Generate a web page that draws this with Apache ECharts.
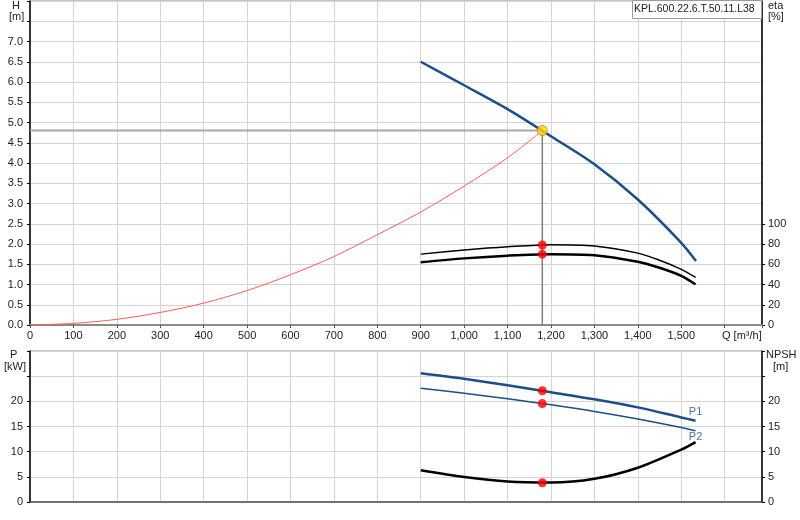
<!DOCTYPE html>
<html>
<head>
<meta charset="utf-8">
<script src="https://cdn.jsdelivr.net/npm/echarts@6/dist/echarts.min.js"></script>
<style>
html,body{margin:0;padding:0;background:#fff;}
#chart{width:800px;height:520px;}
</style>
</head>
<body>
<div id="chart"></div>
<script>
// ---- data ----
const modelName = 'KPL.600.22.6.T.50.11.L38';
const qMax = 1686;
const hLabelMax = 7.0;
const etaTicks = [0, 20, 40, 60, 80, 100];
const powerLabelMax = 20;

const qSystem = [0, 100, 200, 300, 400, 500, 600, 700, 800, 900, 1000, 1100, 1180];
const hSystem = [0, 0.04, 0.14, 0.31, 0.54, 0.85, 1.24, 1.69, 2.23, 2.79, 3.43, 4.13, 4.80];

const qPump = [900, 1000, 1100, 1200, 1300, 1400, 1500, 1534];
const hPump = [6.50, 5.92, 5.33, 4.66, 3.97, 3.10, 2.03, 1.58];

const qEta = [900, 1000, 1100, 1200, 1300, 1400, 1450, 1500, 1533];
const etaUpper = [70, 74, 77.2, 79.3, 78, 71, 64, 55, 47];
const etaLower = [62, 65.8, 68.5, 70, 69, 62.5, 56.5, 48.5, 40];

const qPower = [900, 1000, 1100, 1200, 1300, 1400, 1500, 1533];
const powerP1 = [25.6, 24.5, 23.2, 21.8, 20.4, 18.8, 16.8, 16.15];
const powerP2 = [22.6, 21.6, 20.5, 19.3, 18.0, 16.5, 14.8, 14.15];

const qNpsh = [900, 1000, 1100, 1200, 1300, 1400, 1500, 1533];
const npsh = [6.3, 4.95, 4.05, 3.85, 4.6, 6.8, 10.4, 11.9];

const dutyQ = 1180;
const dutyH = 4.80;
const dutyEtaUpper = 79;
const dutyEtaLower = 70;
const dutyP1 = 22.1;
const dutyP2 = 19.55;
const dutyNpsh = 3.83;

// ---- helpers ----
const zip = (xs, ys) => xs.map((x, i) => [x, ys[i]]);
const FONT = "'Liberation Sans', Arial, sans-serif";
const BLUE = '#1c4e89';
const GRID = '#d4d4d4';

const chart = echarts.init(document.getElementById('chart'), null, {renderer: 'canvas'});

const xAxisBase = {
  type: 'value', min: 0, max: qMax, interval: 100,
  splitLine: {show: true, lineStyle: {color: GRID, width: 1}}
};

const option = {
  animation: false,
  textStyle: {fontFamily: FONT},
  grid: [
    {left: 30, right: 38, top: 1, height: 324, show: true, borderColor: '#8a8a8a', borderWidth: 1},
    {left: 30, right: 38, top: 351, height: 151, show: true, borderColor: '#8a8a8a', borderWidth: 1}
  ],
  xAxis: [
    Object.assign({}, xAxisBase, {
      gridIndex: 0,
      axisLine: {lineStyle: {color: '#8a8a8a', width: 2}},
      axisTick: {show: true, length: 3, lineStyle: {color: '#555'}},
      axisLabel: {
        fontSize: 11, color: '#222', margin: 5, fontFamily: FONT,
        formatter: v => (v >= 1600 ? '' : v.toLocaleString('en-US'))
      }
    }),
    Object.assign({}, xAxisBase, {
      gridIndex: 1,
      axisLine: {lineStyle: {color: '#555', width: 1.5}},
      axisTick: {show: false},
      axisLabel: {show: false}
    })
  ],
  yAxis: [
    {
      type: 'value', gridIndex: 0, min: 0, max: 8, interval: 0.5,
      axisLine: {show: true, lineStyle: {color: '#000', width: 1.5}},
      axisTick: {show: true, length: 3, lineStyle: {color: '#000'}},
      axisLabel: {fontSize: 11, color: '#222', margin: 7, fontFamily: FONT,
        formatter: v => (v <= hLabelMax ? v.toFixed(1) : '')},
      splitLine: {show: true, lineStyle: {color: GRID, width: 1}}
    },
    {
      type: 'value', gridIndex: 0, position: 'right', min: 0, max: 320, interval: 20,
      axisLine: {show: true, lineStyle: {color: '#000', width: 1.5}},
      axisTick: {show: true, length: 3, lineStyle: {color: '#000'}, customValues: etaTicks},
      axisLabel: {fontSize: 11, color: '#222', margin: 6, fontFamily: FONT, customValues: etaTicks},
      splitLine: {show: false}
    },
    {
      type: 'value', gridIndex: 1, min: 0, max: 30, interval: 5,
      axisLine: {show: true, lineStyle: {color: '#000', width: 1.5}},
      axisTick: {show: true, length: 3, lineStyle: {color: '#000'}},
      axisLabel: {fontSize: 11, color: '#222', margin: 7, fontFamily: FONT,
        formatter: v => (v <= powerLabelMax ? String(v) : '')},
      splitLine: {show: true, lineStyle: {color: GRID, width: 1}}
    },
    {
      type: 'value', gridIndex: 1, position: 'right', min: 0, max: 30, interval: 5,
      axisLine: {show: true, lineStyle: {color: '#000', width: 1.5}},
      axisTick: {show: true, length: 3, lineStyle: {color: '#000'}},
      axisLabel: {fontSize: 11, color: '#222', margin: 6, fontFamily: FONT,
        formatter: v => (v <= powerLabelMax ? String(v) : '')},
      splitLine: {show: false}
    }
  ],
  series: [
    // duty point guide lines
    {type: 'line', xAxisIndex: 0, yAxisIndex: 0, data: [[0, dutyH], [dutyQ, dutyH]],
      showSymbol: false, lineStyle: {color: '#a8a8a8', width: 2}, z: 2, silent: true},
    {type: 'line', xAxisIndex: 0, yAxisIndex: 0, data: [[dutyQ, 0], [dutyQ, dutyH]],
      showSymbol: false, lineStyle: {color: '#808080', width: 1.5}, z: 2, silent: true},
    // system curve
    {type: 'line', xAxisIndex: 0, yAxisIndex: 0, data: zip(qSystem, hSystem), smooth: 0.3,
      showSymbol: false, lineStyle: {color: '#ff5a5a', width: 1}, z: 3},
    // pump head curve
    {type: 'line', xAxisIndex: 0, yAxisIndex: 0, data: zip(qPump, hPump), smooth: 0.3,
      showSymbol: false, lineStyle: {color: BLUE, width: 2.5}, z: 4},
    // efficiency curves
    {type: 'line', xAxisIndex: 0, yAxisIndex: 1, data: zip(qEta, etaUpper), smooth: 0.3,
      showSymbol: false, lineStyle: {color: '#000', width: 1.5}, z: 4},
    {type: 'line', xAxisIndex: 0, yAxisIndex: 1, data: zip(qEta, etaLower), smooth: 0.3,
      showSymbol: false, lineStyle: {color: '#000', width: 2.5}, z: 4},
    // red markers on efficiency
    {type: 'scatter', xAxisIndex: 0, yAxisIndex: 1, data: [[dutyQ, dutyEtaUpper], [dutyQ, dutyEtaLower]],
      symbolSize: 9, itemStyle: {color: '#ff0000'}, z: 6},
    // duty point marker
    {type: 'scatter', xAxisIndex: 0, yAxisIndex: 0, data: [[dutyQ, dutyH]],
      symbolSize: 10, itemStyle: {color: '#ffdd00', borderColor: '#e07030', borderWidth: 1}, z: 7},
    // power curves
    {type: 'line', xAxisIndex: 1, yAxisIndex: 2, data: zip(qPower, powerP1), smooth: 0.3,
      showSymbol: false, lineStyle: {color: BLUE, width: 2.5}, z: 4},
    {type: 'line', xAxisIndex: 1, yAxisIndex: 2, data: zip(qPower, powerP2), smooth: 0.3,
      showSymbol: false, lineStyle: {color: BLUE, width: 1.5}, z: 4},
    // npsh curve
    {type: 'line', xAxisIndex: 1, yAxisIndex: 3, data: zip(qNpsh, npsh), smooth: 0.3,
      showSymbol: false, lineStyle: {color: '#000', width: 2.5}, z: 4},
    // red markers bottom
    {type: 'scatter', xAxisIndex: 1, yAxisIndex: 2, data: [[dutyQ, dutyP1], [dutyQ, dutyP2]],
      symbolSize: 9, itemStyle: {color: '#ff0000'}, z: 6},
    {type: 'scatter', xAxisIndex: 1, yAxisIndex: 3, data: [[dutyQ, dutyNpsh]],
      symbolSize: 9, itemStyle: {color: '#ff0000'}, z: 6},
    // P1 / P2 labels at curve ends
    {type: 'scatter', xAxisIndex: 1, yAxisIndex: 2,
      data: [[qPower[qPower.length - 1], powerP1[powerP1.length - 1]]],
      symbolSize: 1, itemStyle: {color: 'rgba(0,0,0,0)'}, z: 8,
      label: {show: true, position: 'top', distance: 3, formatter: 'P1', color: BLUE, fontSize: 11, fontFamily: FONT}},
    {type: 'scatter', xAxisIndex: 1, yAxisIndex: 2,
      data: [[qPower[qPower.length - 1], powerP2[powerP2.length - 1]]],
      symbolSize: 1, itemStyle: {color: 'rgba(0,0,0,0)'}, z: 8,
      label: {show: true, position: 'bottom', distance: 0, formatter: 'P2', color: BLUE, fontSize: 11, fontFamily: FONT}}
  ],
  graphic: [
    {type: 'text', left: 12, top: 0, style: {text: 'H', font: '11px ' + FONT, fill: '#222'}},
    {type: 'text', left: 9, top: 11, style: {text: '[m]', font: '11px ' + FONT, fill: '#222'}},
    {type: 'text', left: 768, top: 0, style: {text: 'eta', font: '11px ' + FONT, fill: '#222'}},
    {type: 'text', left: 768, top: 11, style: {text: '[%]', font: '11px ' + FONT, fill: '#222'}},
    {type: 'text', left: 10, top: 349, style: {text: 'P', font: '11px ' + FONT, fill: '#222'}},
    {type: 'text', left: 4, top: 361, style: {text: '[kW]', font: '11px ' + FONT, fill: '#222'}},
    {type: 'text', left: 766, top: 349, style: {text: 'NPSH', font: '11px ' + FONT, fill: '#222'}},
    {type: 'text', left: 773, top: 361, style: {text: '[m]', font: '11px ' + FONT, fill: '#222'}},
    {type: 'text', left: 722, top: 330, style: {text: 'Q [m³/h]', font: '11px ' + FONT, fill: '#222'}},
    {type: 'rect', left: 632, top: 0, z: 100, shape: {x: 0, y: 0, width: 129, height: 18},
      style: {fill: '#fff', stroke: '#9a9a9a', lineWidth: 1}},
    {type: 'text', left: 634, top: 4, z: 101,
      style: {text: modelName, font: '10.5px ' + FONT, fill: '#222'}}
  ]
};

chart.setOption(option);
</script>
</body>
</html>
